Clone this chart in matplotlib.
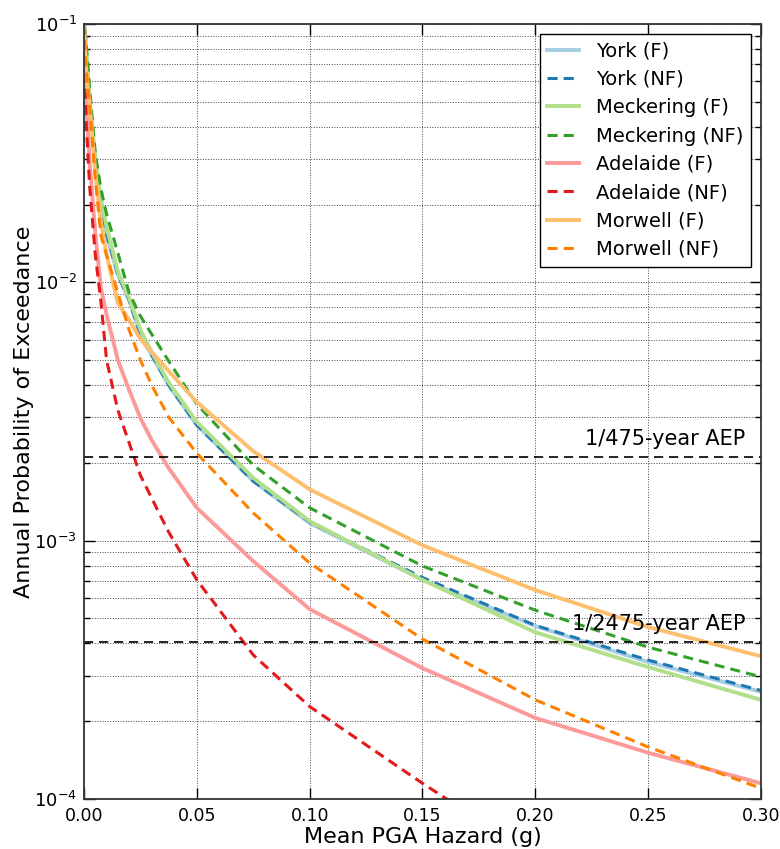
import numpy as np
import matplotlib
matplotlib.use("Agg")
import matplotlib.pyplot as plt
from matplotlib.ticker import FixedLocator, FuncFormatter

# PGA levels (g)
pga = [0.0, 0.001, 0.0025, 0.005, 0.0075, 0.01, 0.015, 0.02, 0.025, 0.03, 0.0375,
       0.05, 0.075, 0.1, 0.15, 0.2, 0.25, 0.3]

york_f = [0.1, 0.076, 0.0475, 0.029, 0.020, 0.0153, 0.0107, 0.00853, 0.00625, 0.00523,
          0.0040, 0.0028, 0.0017, 0.00117, 0.000705, 0.000467, 0.000339, 0.00026]
york_nf = [0.1, 0.076, 0.0475, 0.029, 0.020, 0.0153, 0.0107, 0.00853, 0.00625, 0.00523,
           0.0040, 0.0028, 0.0017, 0.00118, 0.00072, 0.00047, 0.000345, 0.000263]
meck_f = [0.1, 0.08, 0.052, 0.0302, 0.0212, 0.0164, 0.011, 0.0087, 0.00655, 0.00537,
          0.0041, 0.00288, 0.00175, 0.00119, 0.000705, 0.000442, 0.000324, 0.000242]
meck_nf = [0.11, 0.083, 0.056, 0.0316, 0.023, 0.0184, 0.013, 0.0091, 0.0074, 0.0063,
           0.00496, 0.00338, 0.00196, 0.00134, 0.000798, 0.000538, 0.000387, 0.000297]
adel_f = [0.1, 0.05, 0.029, 0.0155, 0.0095, 0.0075, 0.0050, 0.00383, 0.00298, 0.00245,
          0.00191, 0.00134, 0.000833, 0.000543, 0.000321, 0.000206, 0.000151, 0.000115]
adel_nf = [0.1, 0.041, 0.0235, 0.0128, 0.0084, 0.0050, 0.0032, 0.00239, 0.00179, 0.00146,
           0.00108, 0.000705, 0.000361, 0.000228, 0.000115, 0.00006, 0.000033, 0.000019]
morw_f = [0.1, 0.066, 0.049, 0.0265, 0.017, 0.0128, 0.0083, 0.00715, 0.00603, 0.00537,
          0.00454, 0.00344, 0.00222, 0.00158, 0.00096, 0.000644, 0.000463, 0.000357]
morw_nf = [0.1, 0.066, 0.0485, 0.0252, 0.0152, 0.01276, 0.0091, 0.00654, 0.0050, 0.0040,
           0.00301, 0.00218, 0.00128, 0.000819, 0.000416, 0.000242, 0.000159, 0.00011]

series = [
    ("York (F)", york_f, "#a6cee3", "-"),
    ("York (NF)", york_nf, "#1f78b4", "--"),
    ("Meckering (F)", meck_f, "#b2df8a", "-"),
    ("Meckering (NF)", meck_nf, "#33a02c", "--"),
    ("Adelaide (F)", adel_f, "#fb9a99", "-"),
    ("Adelaide (NF)", adel_nf, "#e31a1c", "--"),
    ("Morwell (F)", morw_f, "#fdbf6f", "-"),
    ("Morwell (NF)", morw_nf, "#ff7f00", "--"),
]

aep_levels = [1 / 475.0, 1 / 2475.0]
aep_labels = ["1/475-year AEP", "1/2475-year AEP"]
xticks = [0.0, 0.05, 0.10, 0.15, 0.20, 0.25, 0.30]

fig = plt.figure(figsize=(7.8, 8.49), dpi=100)
ax = fig.add_axes([0.1077, 0.0589, 0.9756 - 0.1077, 0.9717 - 0.0589])

for name, vals, col, ls in series:
    if ls == "-":
        ax.plot(pga, vals, ls, color=col, lw=2.8, label=name)
    else:
        ax.plot(pga, vals, color=col, lw=2.2, dashes=(3.3, 2.0), label=name)

for lev, lab in zip(aep_levels, aep_labels):
    ax.axhline(lev, color="black", lw=1.2, dashes=(5.5, 3.5))
    ax.text(0.293, lev * 1.08, lab, ha="right", va="bottom", fontsize=15)

ax.set_yscale("log")
ax.set_xlim(0, 0.3)
ax.set_ylim(1e-4, 1e-1)
ax.xaxis.set_major_locator(FixedLocator(xticks))
ax.xaxis.set_major_formatter(FuncFormatter(lambda v, p: f"{v:.2f}"))

ax.grid(True, which="major", axis="both", color="#444444", ls=":", lw=0.7)
ax.grid(True, which="minor", axis="y", color="#444444", ls=":", lw=0.7)

ax.tick_params(which="both", direction="in", top=True, right=True, labelsize=13)
ax.tick_params(axis="x", labelsize=12.5)
ax.tick_params(which="major", length=8, width=1)
ax.tick_params(which="minor", length=4, width=1)
ax.tick_params(axis="x", pad=6)
ax.tick_params(axis="y", pad=5)
for sp in ax.spines.values():
    sp.set_linewidth(1.3)
    sp.set_color("#333333")

ax.set_xlabel("Mean PGA Hazard (g)", fontsize=16, labelpad=1)
ax.set_ylabel("Annual Probability of Exceedance", fontsize=16, labelpad=0)

leg = ax.legend(loc="upper right", fontsize=14, fancybox=False, framealpha=1,
                edgecolor="black", borderaxespad=0.5, handlelength=1.6,
                handletextpad=0.9, labelspacing=0.48)
leg.get_frame().set_linewidth(1.0)

fig.savefig("out.png", dpi=100)
